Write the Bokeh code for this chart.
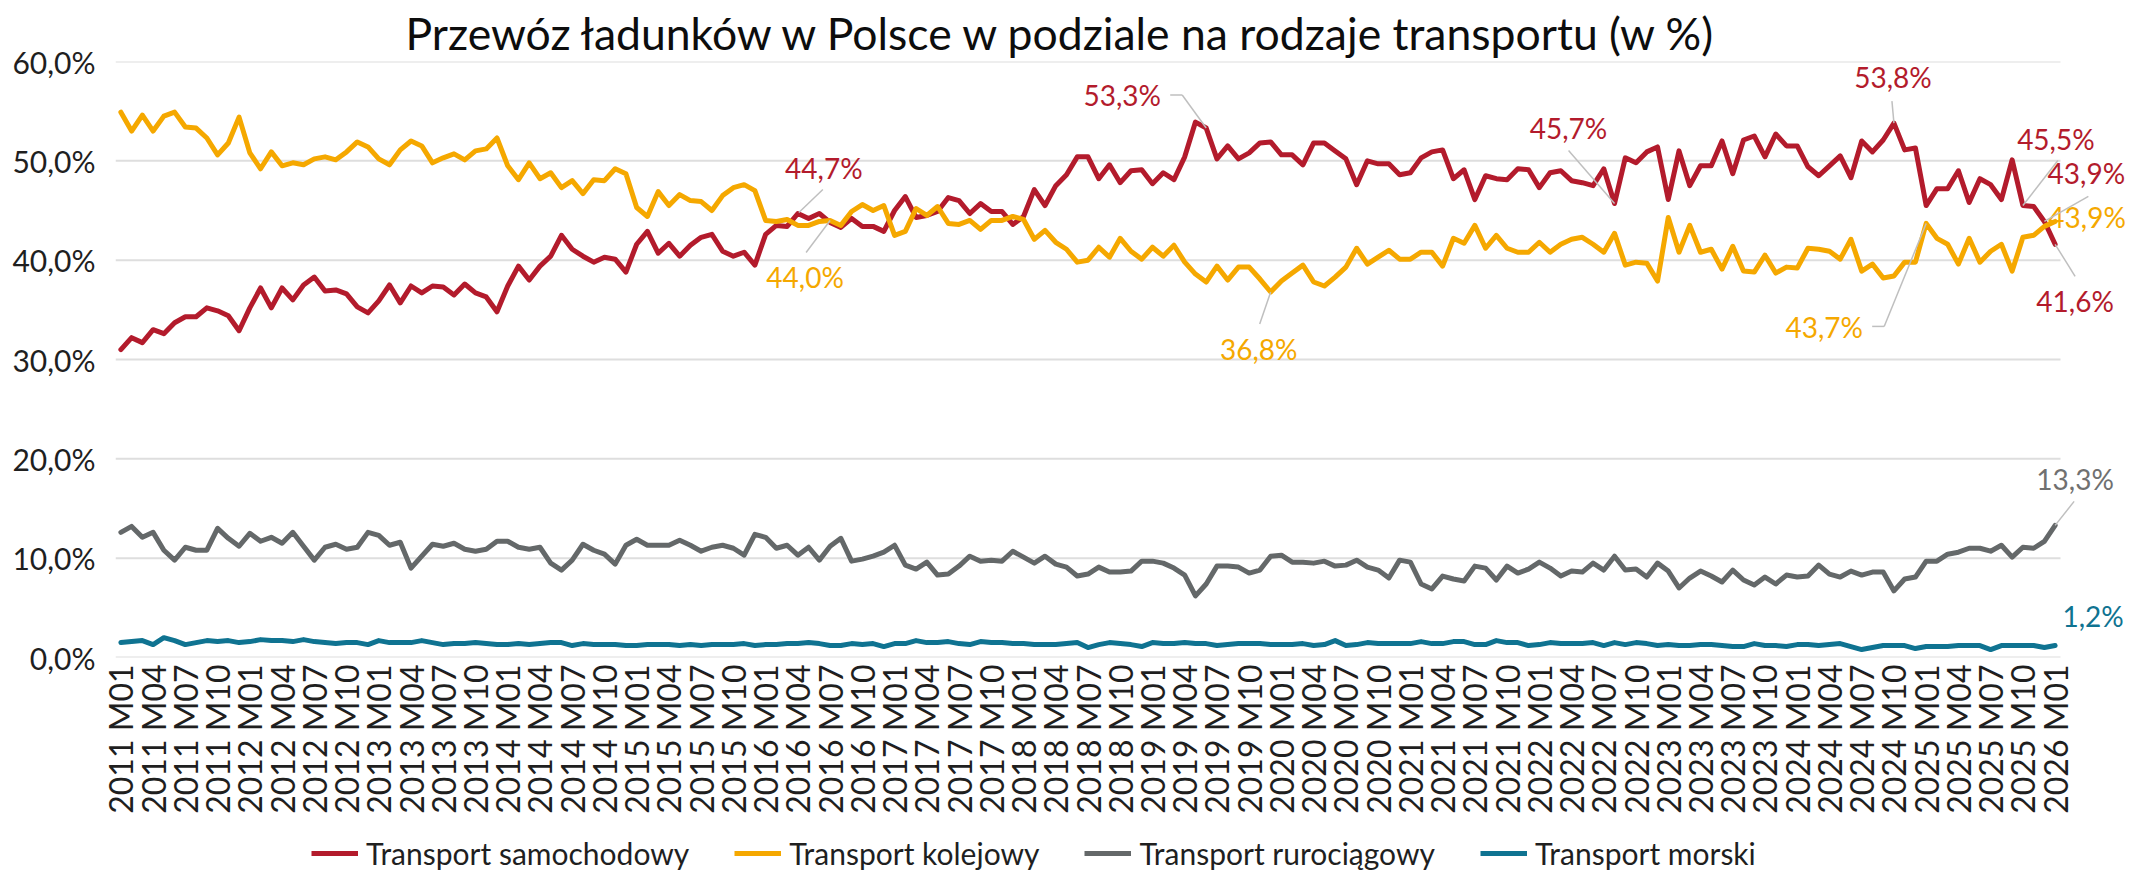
from bokeh.plotting import figure
from bokeh.layouts import column
from bokeh.models import (Range1d, FixedTicker, ColumnDataSource, LabelSet, Arrow,
                          Legend, LegendItem)
from bokeh.core.properties import value
from bokeh.embed import file_html
from bokeh.resources import INLINE

# ---------------- data (monthly, 2011 M01 .. 2026 M01) ----------------
samochodowy = [
    31.0, 32.2, 31.7, 33.0, 32.6, 33.7, 34.3, 34.3, 35.2, 34.9, 34.4, 32.9,
    35.2, 37.2, 35.2, 37.2, 36.0, 37.5, 38.3, 36.9, 37.0, 36.6, 35.3, 34.7,
    35.9, 37.5, 35.7, 37.4, 36.7, 37.4, 37.3, 36.5, 37.6, 36.7, 36.3, 34.8,
    37.4, 39.4, 38.0, 39.4, 40.4, 42.5, 41.1, 40.4, 39.8, 40.3, 40.1, 38.8,
    41.6, 42.9, 40.7, 41.7, 40.4, 41.5, 42.3, 42.6, 40.9, 40.4, 40.8, 39.5,
    42.6, 43.5, 43.4, 44.7, 44.2, 44.7, 43.8, 43.3, 44.2, 43.4, 43.4, 42.9,
    45.0, 46.4, 44.3, 44.5, 44.9, 46.3, 46.0, 44.7, 45.7, 44.9, 44.9, 43.6,
    44.4, 47.1, 45.5, 47.5, 48.6, 50.4, 50.4, 48.2, 49.6, 47.8, 49.0, 49.1,
    47.7, 48.8, 48.1, 50.4, 53.9, 53.3, 50.2, 51.5, 50.2, 50.8, 51.8, 51.9,
    50.6, 50.6, 49.6, 51.8, 51.8, 51.0, 50.2, 47.6, 50.0, 49.7, 49.7, 48.6,
    48.8, 50.3, 50.9, 51.1, 48.2, 49.1, 46.1, 48.5, 48.2, 48.1, 49.2, 49.1,
    47.3, 48.8, 49.0, 48.0, 47.8, 47.5, 49.2, 45.7, 50.3, 49.8, 50.9, 51.4,
    46.1, 51.0, 47.5, 49.5, 49.5, 52.0, 48.7, 52.1, 52.5, 50.4, 52.7, 51.5,
    51.5, 49.4, 48.5, 49.5, 50.5, 48.3, 52.0, 50.9, 52.1, 53.8, 51.1, 51.3,
    45.5, 47.2, 47.2, 49.0, 45.8, 48.2, 47.6, 46.1, 50.1, 45.5, 45.4, 43.9,
    41.6,
]
kolejowy = [
    54.9, 53.0, 54.6, 53.0, 54.5, 54.9, 53.4, 53.3, 52.3, 50.6, 51.8, 54.4,
    50.8, 49.2, 50.9, 49.5, 49.8, 49.6, 50.2, 50.4, 50.1, 50.9, 51.9, 51.4,
    50.2, 49.6, 51.1, 52.0, 51.5, 49.8, 50.3, 50.7, 50.1, 51.0, 51.2, 52.3,
    49.5, 48.1, 49.8, 48.2, 48.8, 47.3, 48.0, 46.7, 48.1, 48.0, 49.2, 48.7,
    45.3, 44.4, 46.9, 45.5, 46.6, 46.0, 45.9, 45.0, 46.5, 47.3, 47.6, 47.0,
    44.0, 43.9, 44.1, 43.5, 43.5, 43.9, 44.0, 43.5, 44.9, 45.6, 45.0, 45.5,
    42.5, 42.9, 45.2, 44.5, 45.4, 43.7, 43.6, 44.0, 43.1, 44.0, 44.0, 44.4,
    44.1, 42.1, 43.0, 41.8, 41.1, 39.8, 40.0, 41.3, 40.3, 42.2, 40.9, 40.1,
    41.3, 40.4, 41.5, 39.8, 38.6, 37.8, 39.4, 38.0, 39.3, 39.3, 38.1, 36.8,
    37.9, 38.7, 39.5, 37.8, 37.4, 38.3, 39.3, 41.2, 39.6, 40.3, 41.0, 40.1,
    40.1, 40.8, 40.8, 39.4, 42.2, 41.7, 43.5, 41.2, 42.5, 41.2, 40.8, 40.8,
    41.8, 40.8, 41.6, 42.1, 42.3, 41.6, 40.8, 42.7, 39.5, 39.8, 39.7, 37.9,
    44.3, 40.8, 43.5, 40.8, 41.1, 39.1, 41.4, 38.9, 38.8, 40.5, 38.7, 39.3,
    39.2, 41.2, 41.1, 40.9, 40.1, 42.1, 38.9, 39.6, 38.2, 38.4, 39.8, 39.8,
    43.7, 42.2, 41.6, 39.6, 42.2, 39.8, 40.9, 41.6, 38.9, 42.3, 42.5, 43.4,
    43.9,
]
rurociagowy = [
    12.6, 13.2, 12.1, 12.6, 10.8, 9.8, 11.1, 10.8, 10.8, 13.0, 12.0, 11.2,
    12.5, 11.7, 12.1, 11.5, 12.6, 11.2, 9.8, 11.1, 11.4, 10.9, 11.1, 12.6,
    12.3, 11.3, 11.6, 9.0, 10.2, 11.4, 11.2, 11.5, 10.9, 10.7, 10.9, 11.7,
    11.7, 11.1, 10.9, 11.1, 9.5, 8.8, 9.8, 11.4, 10.8, 10.4, 9.4, 11.3,
    11.9, 11.3, 11.3, 11.3, 11.8, 11.3, 10.7, 11.1, 11.3, 11.0, 10.3, 12.4,
    12.1, 11.0, 11.3, 10.3, 11.1, 9.8, 11.2, 12.0, 9.7, 9.9, 10.2, 10.6,
    11.3, 9.3, 8.9, 9.6, 8.3, 8.4, 9.2, 10.2, 9.7, 9.8, 9.7, 10.7,
    10.1, 9.5, 10.2, 9.4, 9.1, 8.2, 8.4, 9.1, 8.6, 8.6, 8.7, 9.7,
    9.7, 9.5, 9.0, 8.3, 6.2, 7.4, 9.2, 9.2, 9.1, 8.5, 8.8, 10.2,
    10.3, 9.6, 9.6, 9.5, 9.7, 9.2, 9.3, 9.8, 9.1, 8.8, 8.0, 9.8,
    9.6, 7.4, 6.9, 8.2, 7.9, 7.7, 9.2, 9.0, 7.8, 9.2, 8.5, 8.9,
    9.6, 9.0, 8.2, 8.7, 8.6, 9.5, 8.8, 10.2, 8.8, 8.9, 8.1, 9.5,
    8.7, 7.0, 8.0, 8.7, 8.2, 7.6, 8.8, 7.8, 7.3, 8.1, 7.4, 8.3,
    8.1, 8.2, 9.3, 8.4, 8.1, 8.7, 8.3, 8.6, 8.6, 6.7, 7.9, 8.1,
    9.7, 9.7, 10.4, 10.6, 11.0, 11.0, 10.7, 11.3, 10.1, 11.1, 11.0, 11.7,
    13.3,
]
morski = [
    1.5, 1.6, 1.7, 1.3, 2.0, 1.7, 1.3, 1.5, 1.7, 1.6, 1.7, 1.5,
    1.6, 1.8, 1.7, 1.7, 1.6, 1.8, 1.6, 1.5, 1.4, 1.5, 1.5, 1.3,
    1.7, 1.5, 1.5, 1.5, 1.7, 1.5, 1.3, 1.4, 1.4, 1.5, 1.4, 1.3,
    1.3, 1.4, 1.3, 1.4, 1.5, 1.5, 1.2, 1.4, 1.3, 1.3, 1.3, 1.2,
    1.2, 1.3, 1.3, 1.3, 1.2, 1.3, 1.2, 1.3, 1.3, 1.3, 1.4, 1.2,
    1.3, 1.3, 1.4, 1.4, 1.5, 1.4, 1.2, 1.2, 1.4, 1.3, 1.4, 1.1,
    1.4, 1.4, 1.7, 1.5, 1.5, 1.6, 1.4, 1.3, 1.6, 1.5, 1.5, 1.4,
    1.4, 1.3, 1.3, 1.3, 1.4, 1.5, 1.0, 1.3, 1.5, 1.4, 1.3, 1.1,
    1.5, 1.4, 1.4, 1.5, 1.4, 1.4, 1.2, 1.3, 1.4, 1.4, 1.4, 1.3,
    1.3, 1.3, 1.4, 1.2, 1.3, 1.7, 1.2, 1.3, 1.5, 1.4, 1.4, 1.4,
    1.4, 1.6, 1.4, 1.4, 1.6, 1.6, 1.3, 1.3, 1.7, 1.5, 1.5, 1.2,
    1.3, 1.5, 1.4, 1.4, 1.4, 1.5, 1.2, 1.5, 1.3, 1.5, 1.4, 1.2,
    1.3, 1.2, 1.2, 1.3, 1.3, 1.2, 1.1, 1.1, 1.4, 1.2, 1.2, 1.1,
    1.3, 1.3, 1.2, 1.3, 1.4, 1.1, 0.8, 1.0, 1.2, 1.2, 1.2, 0.9,
    1.1, 1.1, 1.1, 1.2, 1.2, 1.2, 0.8, 1.2, 1.2, 1.2, 1.2, 1.0,
    1.2,
]
start_year = 2011
months = [f"{start_year + k // 12} M{k % 12 + 1:02d}" for k in range(len(samochodowy))]
y_ticks = [0, 10, 20, 30, 40, 50, 60]
y_tick_labels = ["0,0%", "10,0%", "20,0%", "30,0%", "40,0%", "50,0%", "60,0%"]
series_names = ["Transport samochodowy", "Transport kolejowy",
                "Transport rurociągowy", "Transport morski"]
colors = ["#B31B2C", "#F5A800", "#646869", "#0F7391"]
label_colors = ["#B31B2C", "#F5A800", "#707070", "#0F7391"]
title = "Przewóz ładunków w Polsce w podziale na rodzaje transportu (w %)"

FONT = "Lato"
TXT = "#1F1F1F"
W = 2125
LEFT = 115
FRAME_W = W - LEFT

# ---------------- main figure ----------------
n = len(samochodowy)
xs = list(range(n))
all_series = [samochodowy, kolejowy, rurociagowy, morski]
CAT_PX = 1945.0 / n     # pixel width of one month
x_end = -0.5 + FRAME_W / CAT_PX
MAIN_H = 822
p = figure(width=W, height=MAIN_H, output_backend="svg", toolbar_location=None,
           x_range=Range1d(-0.5, x_end), y_range=Range1d(0, 60),
           min_border_left=LEFT, min_border_right=0, min_border_top=61,
           min_border_bottom=165)
p.outline_line_color = None
p.background_fill_color = "white"
p.border_fill_color = "white"

p.title.text = title
p.title.align = "left"
p.title.offset = 290
p.title.text_font = FONT
p.title.text_font_size = "44.5px"
p.title.text_font_style = "normal"
p.title.text_color = "#0D0D0D"
p.title.standoff = 6

# horizontal gridlines only across the data area
p.xgrid.grid_line_color = None
p.ygrid.grid_line_color = None
p.segment(x0=[-0.5] * len(y_ticks), y0=y_ticks, x1=[n - 0.5] * len(y_ticks), y1=y_ticks,
          line_color="#DEDEDE", line_width=2)

p.yaxis.ticker = FixedTicker(ticks=y_ticks)
p.yaxis.major_label_overrides = dict(zip(y_ticks, y_tick_labels))
p.yaxis.axis_line_color = None
p.yaxis.major_tick_line_color = None
p.yaxis.minor_tick_line_color = None
p.yaxis.major_tick_out = 0
p.yaxis.major_tick_in = 0
p.yaxis.minor_tick_out = 0
p.yaxis.major_label_standoff = 20
p.yaxis.major_label_text_font = FONT
p.yaxis.major_label_text_font_size = "30px"
p.yaxis.major_label_text_color = TXT

xt = list(range(0, n, 3))
p.xaxis.ticker = FixedTicker(ticks=xt)
p.xaxis.major_label_overrides = {k: months[k] for k in xt}
p.xaxis.major_label_orientation = 1.5707963
p.xaxis.axis_line_color = None
p.xaxis.major_tick_line_color = None
p.xaxis.minor_tick_line_color = None
p.xaxis.major_tick_out = 0
p.xaxis.major_tick_in = 0
p.xaxis.minor_tick_out = 0
p.xaxis.major_label_standoff = 7
p.xaxis.major_label_text_font = FONT
p.xaxis.major_label_text_font_size = "32px"
p.xaxis.major_label_text_color = TXT

for vals, col in zip(all_series, colors):
    p.line(xs, vals, line_color=col, line_width=5, line_join="round", line_cap="round")

# ---------------- data labels with leader lines ----------------
PXX = 1.0 / CAT_PX      # data units per px (x)
PXY = 60.0 / 596.0      # data units per px (y)

# (series index, point index, dx px, dy px [screen down])
lab_specs = [
    (0, 63, 26, -45), (1, 66, -25, 57), (0, 101, -84, -33), (1, 107, -12, 57),
    (0, 139, -46, -76), (0, 165, -1, -46), (1, 168, -102, 104), (0, 177, 33, -67),
    (0, 179, 42, -48), (1, 180, 32, -4), (0, 180, 20, 57), (2, 180, 20, -46),
    (3, 180, 38, -30),
]
lx, ly, lt, lc, ldx, ldy = [], [], [], [], [], []
for s, k, dx, dy in lab_specs:
    v = all_series[s][k]
    lx.append(k); ly.append(v)
    lt.append(f"{v:.1f}%".replace(".", ","))
    lc.append(label_colors[s]); ldx.append(dx); ldy.append(-dy)
lsrc = ColumnDataSource(dict(x=lx, y=ly, text=lt, color=lc, dx=ldx, dy=ldy))
p.add_layout(LabelSet(x="x", y="y", text="text", source=lsrc, x_offset="dx", y_offset="dy",
                      text_color="color", text_font=value(FONT), text_font_size="28px",
                      text_align="center", text_baseline="middle"))

# leader segments: (series, point, start dx,dy, end dx,dy) in px, screen down
leader_specs = [
    (0, 63, 1, -1, 25, -24), (1, 66, 0, 0, -24, 32),
    (0, 101, 0, 0, -24, -33), (0, 101, -24, -33, -36, -33),
    (1, 107, 0, 0, -11, 32), (0, 139, 0, 0, -46, -53), (0, 165, 0, 0, -2, -22),
    (1, 168, 0, 0, -42, 103), (1, 168, -42, 103, -54, 103),
    (0, 177, 0, 0, 35, -45), (0, 179, 0, 0, 44, -25), (0, 180, 0, 0, 20, 32),
    (2, 180, 0, 0, 19, -24),
]
x0, y0, x1, y1 = [], [], [], []
for s, k, a, b, c, d in leader_specs:
    v = all_series[s][k]
    x0.append(k + a * PXX); y0.append(v - b * PXY)
    x1.append(k + c * PXX); y1.append(v - d * PXY)
p.add_layout(Arrow(end=None, source=ColumnDataSource(dict(x0=x0, y0=y0, x1=x1, y1=y1)),
                   x_start="x0", y_start="y0", x_end="x1", y_end="y1",
                   line_color="#BFBFBF", line_width=1.5))

# ---------------- legend strip (series drawn outside its visible range) ----------------
LEG_H = 871 - MAIN_H
pl = figure(width=W, height=LEG_H, output_backend="svg", toolbar_location=None,
            x_range=Range1d(0, 1), y_range=Range1d(-20, -10),
            min_border_left=LEFT, min_border_right=0, min_border_top=0, min_border_bottom=0,
            x_axis_location=None, y_axis_location=None)
pl.outline_line_color = None
pl.grid.visible = False
leg_r = [pl.line(xs, vals, line_color=col, line_width=5) for vals, col in zip(all_series, colors)]
legend = Legend(items=[LegendItem(label=nm, renderers=[r]) for nm, r in zip(series_names, leg_r)],
                orientation="horizontal", location=(196, 0),
                glyph_width=47, glyph_height=30, label_height=30, label_standoff=8,
                spacing=45, padding=0, margin=0,
                label_text_font=FONT, label_text_font_size="30px", label_text_color=TXT,
                border_line_color=None, background_fill_alpha=0)
pl.add_layout(legend)

open("out.html", "w").write(file_html(column(p, pl, spacing=0), INLINE))
